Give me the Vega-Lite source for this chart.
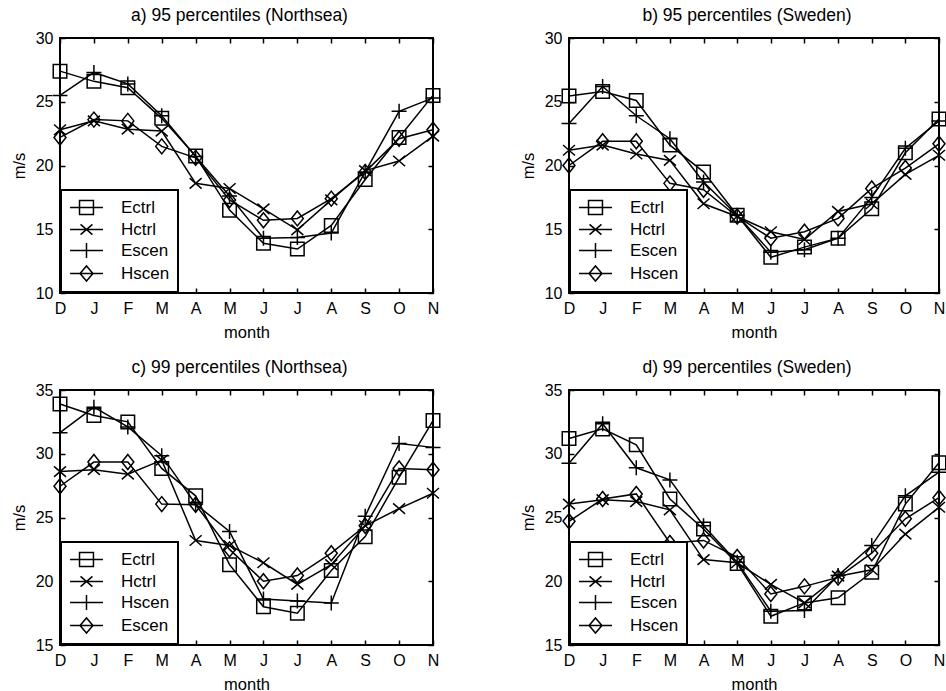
{
  "$schema": "https://vega.github.io/schema/vega-lite/v6.json",
  "background": "white",
  "padding": {"left": 10, "top": 5, "right": 0, "bottom": 0},
  "datasets": {
    "d": [
      {"p":"a","s":"Ectrl","m":0,"v":27.4},{"p":"a","s":"Ectrl","m":1,"v":26.6},{"p":"a","s":"Ectrl","m":2,"v":26.1},{"p":"a","s":"Ectrl","m":3,"v":23.7},{"p":"a","s":"Ectrl","m":4,"v":20.75},{"p":"a","s":"Ectrl","m":5,"v":16.5},{"p":"a","s":"Ectrl","m":6,"v":13.9},{"p":"a","s":"Ectrl","m":7,"v":13.45},{"p":"a","s":"Ectrl","m":8,"v":15.3},{"p":"a","s":"Ectrl","m":9,"v":18.9},{"p":"a","s":"Ectrl","m":10,"v":22.2},{"p":"a","s":"Ectrl","m":11,"v":25.5},
      {"p":"a","s":"Hctrl","m":0,"v":22.8},{"p":"a","s":"Hctrl","m":1,"v":23.5},{"p":"a","s":"Hctrl","m":2,"v":22.85},{"p":"a","s":"Hctrl","m":3,"v":22.7},{"p":"a","s":"Hctrl","m":4,"v":18.6},{"p":"a","s":"Hctrl","m":5,"v":18.2},{"p":"a","s":"Hctrl","m":6,"v":16.6},{"p":"a","s":"Hctrl","m":7,"v":14.95},{"p":"a","s":"Hctrl","m":8,"v":17.3},{"p":"a","s":"Hctrl","m":9,"v":19.6},{"p":"a","s":"Hctrl","m":10,"v":20.35},{"p":"a","s":"Hctrl","m":11,"v":22.3},
      {"p":"a","s":"Escen","m":0,"v":25.5},{"p":"a","s":"Escen","m":1,"v":27.3},{"p":"a","s":"Escen","m":2,"v":26.4},{"p":"a","s":"Escen","m":3,"v":23.9},{"p":"a","s":"Escen","m":4,"v":20.7},{"p":"a","s":"Escen","m":5,"v":17.6},{"p":"a","s":"Escen","m":6,"v":14.3},{"p":"a","s":"Escen","m":7,"v":14.35},{"p":"a","s":"Escen","m":8,"v":14.7},{"p":"a","s":"Escen","m":9,"v":19.5},{"p":"a","s":"Escen","m":10,"v":24.25},{"p":"a","s":"Escen","m":11,"v":25.3},
      {"p":"a","s":"Hscen","m":0,"v":22.2},{"p":"a","s":"Hscen","m":1,"v":23.6},{"p":"a","s":"Hscen","m":2,"v":23.5},{"p":"a","s":"Hscen","m":3,"v":21.5},{"p":"a","s":"Hscen","m":4,"v":20.6},{"p":"a","s":"Hscen","m":5,"v":17.3},{"p":"a","s":"Hscen","m":6,"v":15.7},{"p":"a","s":"Hscen","m":7,"v":15.85},{"p":"a","s":"Hscen","m":8,"v":17.4},{"p":"a","s":"Hscen","m":9,"v":19.5},{"p":"a","s":"Hscen","m":10,"v":22.1},{"p":"a","s":"Hscen","m":11,"v":22.8},

      {"p":"b","s":"Ectrl","m":0,"v":25.45},{"p":"b","s":"Ectrl","m":1,"v":25.8},{"p":"b","s":"Ectrl","m":2,"v":25.1},{"p":"b","s":"Ectrl","m":3,"v":21.6},{"p":"b","s":"Ectrl","m":4,"v":19.5},{"p":"b","s":"Ectrl","m":5,"v":16.1},{"p":"b","s":"Ectrl","m":6,"v":12.8},{"p":"b","s":"Ectrl","m":7,"v":13.6},{"p":"b","s":"Ectrl","m":8,"v":14.3},{"p":"b","s":"Ectrl","m":9,"v":16.6},{"p":"b","s":"Ectrl","m":10,"v":21.0},{"p":"b","s":"Ectrl","m":11,"v":23.65},
      {"p":"b","s":"Hctrl","m":0,"v":21.2},{"p":"b","s":"Hctrl","m":1,"v":21.6},{"p":"b","s":"Hctrl","m":2,"v":20.9},{"p":"b","s":"Hctrl","m":3,"v":20.4},{"p":"b","s":"Hctrl","m":4,"v":17.0},{"p":"b","s":"Hctrl","m":5,"v":16.0},{"p":"b","s":"Hctrl","m":6,"v":14.8},{"p":"b","s":"Hctrl","m":7,"v":14.2},{"p":"b","s":"Hctrl","m":8,"v":16.4},{"p":"b","s":"Hctrl","m":9,"v":17.0},{"p":"b","s":"Hctrl","m":10,"v":19.3},{"p":"b","s":"Hctrl","m":11,"v":20.8},
      {"p":"b","s":"Escen","m":0,"v":23.3},{"p":"b","s":"Escen","m":1,"v":26.2},{"p":"b","s":"Escen","m":2,"v":23.9},{"p":"b","s":"Escen","m":3,"v":22.1},{"p":"b","s":"Escen","m":4,"v":18.7},{"p":"b","s":"Escen","m":5,"v":16.1},{"p":"b","s":"Escen","m":6,"v":13.2},{"p":"b","s":"Escen","m":7,"v":13.4},{"p":"b","s":"Escen","m":8,"v":14.3},{"p":"b","s":"Escen","m":9,"v":17.5},{"p":"b","s":"Escen","m":10,"v":21.35},{"p":"b","s":"Escen","m":11,"v":23.5},
      {"p":"b","s":"Hscen","m":0,"v":20.0},{"p":"b","s":"Hscen","m":1,"v":21.9},{"p":"b","s":"Hscen","m":2,"v":21.9},{"p":"b","s":"Hscen","m":3,"v":18.6},{"p":"b","s":"Hscen","m":4,"v":18.1},{"p":"b","s":"Hscen","m":5,"v":16.0},{"p":"b","s":"Hscen","m":6,"v":14.3},{"p":"b","s":"Hscen","m":7,"v":14.8},{"p":"b","s":"Hscen","m":8,"v":15.85},{"p":"b","s":"Hscen","m":9,"v":18.2},{"p":"b","s":"Hscen","m":10,"v":19.8},{"p":"b","s":"Hscen","m":11,"v":21.7},

      {"p":"c","s":"Ectrl","m":0,"v":33.9},{"p":"c","s":"Ectrl","m":1,"v":33.0},{"p":"c","s":"Ectrl","m":2,"v":32.5},{"p":"c","s":"Ectrl","m":3,"v":28.85},{"p":"c","s":"Ectrl","m":4,"v":26.7},{"p":"c","s":"Ectrl","m":5,"v":21.3},{"p":"c","s":"Ectrl","m":6,"v":18.0},{"p":"c","s":"Ectrl","m":7,"v":17.5},{"p":"c","s":"Ectrl","m":8,"v":20.85},{"p":"c","s":"Ectrl","m":9,"v":23.5},{"p":"c","s":"Ectrl","m":10,"v":28.15},{"p":"c","s":"Ectrl","m":11,"v":32.6},
      {"p":"c","s":"Hctrl","m":0,"v":28.6},{"p":"c","s":"Hctrl","m":1,"v":28.75},{"p":"c","s":"Hctrl","m":2,"v":28.4},{"p":"c","s":"Hctrl","m":3,"v":29.5},{"p":"c","s":"Hctrl","m":4,"v":23.2},{"p":"c","s":"Hctrl","m":5,"v":22.8},{"p":"c","s":"Hctrl","m":6,"v":21.45},{"p":"c","s":"Hctrl","m":7,"v":19.75},{"p":"c","s":"Hctrl","m":8,"v":21.3},{"p":"c","s":"Hctrl","m":9,"v":24.35},{"p":"c","s":"Hctrl","m":10,"v":25.7},{"p":"c","s":"Hctrl","m":11,"v":26.9},
      {"p":"c","s":"Hscen","m":0,"v":31.65},{"p":"c","s":"Hscen","m":1,"v":33.65},{"p":"c","s":"Hscen","m":2,"v":32.1},{"p":"c","s":"Hscen","m":3,"v":29.85},{"p":"c","s":"Hscen","m":4,"v":26.05},{"p":"c","s":"Hscen","m":5,"v":23.9},{"p":"c","s":"Hscen","m":6,"v":18.6},{"p":"c","s":"Hscen","m":7,"v":18.45},{"p":"c","s":"Hscen","m":8,"v":18.3},{"p":"c","s":"Hscen","m":9,"v":25.1},{"p":"c","s":"Hscen","m":10,"v":30.8},{"p":"c","s":"Hscen","m":11,"v":30.5},
      {"p":"c","s":"Escen","m":0,"v":27.45},{"p":"c","s":"Escen","m":1,"v":29.35},{"p":"c","s":"Escen","m":2,"v":29.35},{"p":"c","s":"Escen","m":3,"v":26.05},{"p":"c","s":"Escen","m":4,"v":26.0},{"p":"c","s":"Escen","m":5,"v":22.5},{"p":"c","s":"Escen","m":6,"v":20.0},{"p":"c","s":"Escen","m":7,"v":20.45},{"p":"c","s":"Escen","m":8,"v":22.2},{"p":"c","s":"Escen","m":9,"v":24.35},{"p":"c","s":"Escen","m":10,"v":28.85},{"p":"c","s":"Escen","m":11,"v":28.75},

      {"p":"d","s":"Ectrl","m":0,"v":31.2},{"p":"d","s":"Ectrl","m":1,"v":31.95},{"p":"d","s":"Ectrl","m":2,"v":30.7},{"p":"d","s":"Ectrl","m":3,"v":26.45},{"p":"d","s":"Ectrl","m":4,"v":24.1},{"p":"d","s":"Ectrl","m":5,"v":21.4},{"p":"d","s":"Ectrl","m":6,"v":17.25},{"p":"d","s":"Ectrl","m":7,"v":18.3},{"p":"d","s":"Ectrl","m":8,"v":18.7},{"p":"d","s":"Ectrl","m":9,"v":20.7},{"p":"d","s":"Ectrl","m":10,"v":26.05},{"p":"d","s":"Ectrl","m":11,"v":29.3},
      {"p":"d","s":"Hctrl","m":0,"v":26.05},{"p":"d","s":"Hctrl","m":1,"v":26.4},{"p":"d","s":"Hctrl","m":2,"v":26.25},{"p":"d","s":"Hctrl","m":3,"v":25.6},{"p":"d","s":"Hctrl","m":4,"v":21.7},{"p":"d","s":"Hctrl","m":5,"v":21.45},{"p":"d","s":"Hctrl","m":6,"v":19.75},{"p":"d","s":"Hctrl","m":7,"v":18.3},{"p":"d","s":"Hctrl","m":8,"v":20.4},{"p":"d","s":"Hctrl","m":9,"v":20.9},{"p":"d","s":"Hctrl","m":10,"v":23.7},{"p":"d","s":"Hctrl","m":11,"v":25.8},
      {"p":"d","s":"Escen","m":0,"v":29.25},{"p":"d","s":"Escen","m":1,"v":32.35},{"p":"d","s":"Escen","m":2,"v":28.9},{"p":"d","s":"Escen","m":3,"v":27.95},{"p":"d","s":"Escen","m":4,"v":24.35},{"p":"d","s":"Escen","m":5,"v":21.5},{"p":"d","s":"Escen","m":6,"v":17.65},{"p":"d","s":"Escen","m":7,"v":17.7},{"p":"d","s":"Escen","m":8,"v":20.45},{"p":"d","s":"Escen","m":9,"v":22.8},{"p":"d","s":"Escen","m":10,"v":26.7},{"p":"d","s":"Escen","m":11,"v":28.55},
      {"p":"d","s":"Hscen","m":0,"v":24.7},{"p":"d","s":"Hscen","m":1,"v":26.45},{"p":"d","s":"Hscen","m":2,"v":26.85},{"p":"d","s":"Hscen","m":3,"v":23.0},{"p":"d","s":"Hscen","m":4,"v":23.2},{"p":"d","s":"Hscen","m":5,"v":21.9},{"p":"d","s":"Hscen","m":6,"v":19.0},{"p":"d","s":"Hscen","m":7,"v":19.6},{"p":"d","s":"Hscen","m":8,"v":20.3},{"p":"d","s":"Hscen","m":9,"v":22.2},{"p":"d","s":"Hscen","m":10,"v":24.9},{"p":"d","s":"Hscen","m":11,"v":26.55}
    ]
  },
  "data": {"name": "d"},
  "columns": 2,
  "spacing": {"row": 15, "column": 74},
  "resolve": {"scale": {"shape": "independent", "x": "independent", "y": "independent"}, "legend": {"shape": "independent"}},
  "concat": [
    {
      "width": 373, "height": 255,
      "title": {"text": "a) 95 percentiles (Northsea)", "dx": -7},
      "transform": [{"filter": "datum.p == 'a'"}],
      "layer": [
        {"mark": {"type": "line", "color": "black", "strokeWidth": 1.5},
         "encoding": {
           "x": {"field": "m", "type": "quantitative", "scale": {"domain": [0, 11], "nice": false, "zero": false}, "axis": {"orient": "bottom", "title": "month", "values": [0,1,2,3,4,5,6,7,8,9,10,11], "labelExpr": "['D','J','F','M','A','M','J','J','A','S','O','N'][datum.value]"}},
           "y": {"field": "v", "type": "quantitative", "scale": {"domain": [10, 30], "nice": false, "zero": false}, "axis": {"orient": "left", "title": "m/s", "values": [10,15,20,25,30]}},
           "detail": {"field": "s"}
         }},
        {"mark": {"type": "point", "filled": false, "color": "black", "strokeWidth": 1.5, "size": 225, "opacity": 1},
         "encoding": {
           "x": {"field": "m", "type": "quantitative", "axis": {"orient": "top", "labels": false, "title": null, "values": [0,1,2,3,4,5,6,7,8,9,10,11]}},
           "y": {"field": "v", "type": "quantitative", "axis": {"orient": "right", "labels": false, "title": null, "values": [10,15,20,25,30]}},
           "shape": {"field": "s", "type": "nominal", "legend": null,
             "scale": {"domain": ["Ectrl","Hctrl","Escen","Hscen"], "range": ["M-0.9,-0.9H0.9V0.9H-0.9Z","M-0.8,-0.7L0.8,0.7M-0.8,0.7L0.8,-0.7","M-1,0H1M0,-1V1","M-0.8,0L0,-1L0.8,0L0,1Z"]}}
         }},
        {"transform": [{"filter": "datum.v > 1000"}],
         "mark": {"type": "point", "filled": false, "color": "black", "strokeWidth": 1.5, "opacity": 1},
         "encoding": {
           "shape": {"field": "s", "type": "nominal", "legend": {"title": null},
             "scale": {"domain": ["Ectrl","Hctrl","Escen","Hscen"], "range": ["M-1,0H2.88M0.12,-0.82H1.76V0.82H0.12Z","M-1,0H2.88M0.24,-0.6L1.64,0.6M0.24,0.6L1.64,-0.6","M-1,0H2.88M0.94,-0.88V0.88","M-1,0H2.88M0.18,0L0.94,-0.88L1.7,0L0.94,0.88Z"]}}
         }}
      ],
      "resolve": {"axis": {"x": "independent", "y": "independent"}, "scale": {"shape": "independent"}}
    },
    {
      "width": 370, "height": 255,
      "title": {"text": "b) 95 percentiles (Sweden)", "dx": -7},
      "transform": [{"filter": "datum.p == 'b'"}],
      "layer": [
        {"mark": {"type": "line", "color": "black", "strokeWidth": 1.5},
         "encoding": {
           "x": {"field": "m", "type": "quantitative", "scale": {"domain": [0, 11], "nice": false, "zero": false}, "axis": {"orient": "bottom", "title": "month", "values": [0,1,2,3,4,5,6,7,8,9,10,11], "labelExpr": "['D','J','F','M','A','M','J','J','A','S','O','N'][datum.value]"}},
           "y": {"field": "v", "type": "quantitative", "scale": {"domain": [10, 30], "nice": false, "zero": false}, "axis": {"orient": "left", "title": "m/s", "values": [10,15,20,25,30]}},
           "detail": {"field": "s"}
         }},
        {"mark": {"type": "point", "filled": false, "color": "black", "strokeWidth": 1.5, "size": 225, "opacity": 1},
         "encoding": {
           "x": {"field": "m", "type": "quantitative", "axis": {"orient": "top", "labels": false, "title": null, "values": [0,1,2,3,4,5,6,7,8,9,10,11]}},
           "y": {"field": "v", "type": "quantitative", "axis": {"orient": "right", "labels": false, "title": null, "values": [10,15,20,25,30]}},
           "shape": {"field": "s", "type": "nominal", "legend": null,
             "scale": {"domain": ["Ectrl","Hctrl","Escen","Hscen"], "range": ["M-0.9,-0.9H0.9V0.9H-0.9Z","M-0.8,-0.7L0.8,0.7M-0.8,0.7L0.8,-0.7","M-1,0H1M0,-1V1","M-0.8,0L0,-1L0.8,0L0,1Z"]}}
         }},
        {"transform": [{"filter": "datum.v > 1000"}],
         "mark": {"type": "point", "filled": false, "color": "black", "strokeWidth": 1.5, "opacity": 1},
         "encoding": {
           "shape": {"field": "s", "type": "nominal", "legend": {"title": null},
             "scale": {"domain": ["Ectrl","Hctrl","Escen","Hscen"], "range": ["M-1,0H2.88M0.12,-0.82H1.76V0.82H0.12Z","M-1,0H2.88M0.24,-0.6L1.64,0.6M0.24,0.6L1.64,-0.6","M-1,0H2.88M0.94,-0.88V0.88","M-1,0H2.88M0.18,0L0.94,-0.88L1.7,0L0.94,0.88Z"]}}
         }}
      ],
      "resolve": {"axis": {"x": "independent", "y": "independent"}, "scale": {"shape": "independent"}}
    },
    {
      "width": 373, "height": 255,
      "title": {"text": "c) 99 percentiles (Northsea)", "dx": -7},
      "transform": [{"filter": "datum.p == 'c'"}],
      "layer": [
        {"mark": {"type": "line", "color": "black", "strokeWidth": 1.5},
         "encoding": {
           "x": {"field": "m", "type": "quantitative", "scale": {"domain": [0, 11], "nice": false, "zero": false}, "axis": {"orient": "bottom", "title": "month", "values": [0,1,2,3,4,5,6,7,8,9,10,11], "labelExpr": "['D','J','F','M','A','M','J','J','A','S','O','N'][datum.value]"}},
           "y": {"field": "v", "type": "quantitative", "scale": {"domain": [15, 35], "nice": false, "zero": false}, "axis": {"orient": "left", "title": "m/s", "values": [15,20,25,30,35]}},
           "detail": {"field": "s"}
         }},
        {"mark": {"type": "point", "filled": false, "color": "black", "strokeWidth": 1.5, "size": 225, "opacity": 1},
         "encoding": {
           "x": {"field": "m", "type": "quantitative", "axis": {"orient": "top", "labels": false, "title": null, "values": [0,1,2,3,4,5,6,7,8,9,10,11]}},
           "y": {"field": "v", "type": "quantitative", "axis": {"orient": "right", "labels": false, "title": null, "values": [15,20,25,30,35]}},
           "shape": {"field": "s", "type": "nominal", "legend": null,
             "scale": {"domain": ["Ectrl","Hctrl","Hscen","Escen"], "range": ["M-0.9,-0.9H0.9V0.9H-0.9Z","M-0.8,-0.7L0.8,0.7M-0.8,0.7L0.8,-0.7","M-1,0H1M0,-1V1","M-0.8,0L0,-1L0.8,0L0,1Z"]}}
         }},
        {"transform": [{"filter": "datum.v > 1000"}],
         "mark": {"type": "point", "filled": false, "color": "black", "strokeWidth": 1.5, "opacity": 1},
         "encoding": {
           "shape": {"field": "s", "type": "nominal", "legend": {"title": null},
             "scale": {"domain": ["Ectrl","Hctrl","Hscen","Escen"], "range": ["M-1,0H2.88M0.12,-0.82H1.76V0.82H0.12Z","M-1,0H2.88M0.24,-0.6L1.64,0.6M0.24,0.6L1.64,-0.6","M-1,0H2.88M0.94,-0.88V0.88","M-1,0H2.88M0.18,0L0.94,-0.88L1.7,0L0.94,0.88Z"]}}
         }}
      ],
      "resolve": {"axis": {"x": "independent", "y": "independent"}, "scale": {"shape": "independent"}}
    },
    {
      "width": 370, "height": 255,
      "title": {"text": "d) 99 percentiles (Sweden)", "dx": -7},
      "transform": [{"filter": "datum.p == 'd'"}],
      "layer": [
        {"mark": {"type": "line", "color": "black", "strokeWidth": 1.5},
         "encoding": {
           "x": {"field": "m", "type": "quantitative", "scale": {"domain": [0, 11], "nice": false, "zero": false}, "axis": {"orient": "bottom", "title": "month", "values": [0,1,2,3,4,5,6,7,8,9,10,11], "labelExpr": "['D','J','F','M','A','M','J','J','A','S','O','N'][datum.value]"}},
           "y": {"field": "v", "type": "quantitative", "scale": {"domain": [15, 35], "nice": false, "zero": false}, "axis": {"orient": "left", "title": "m/s", "values": [15,20,25,30,35]}},
           "detail": {"field": "s"}
         }},
        {"mark": {"type": "point", "filled": false, "color": "black", "strokeWidth": 1.5, "size": 225, "opacity": 1},
         "encoding": {
           "x": {"field": "m", "type": "quantitative", "axis": {"orient": "top", "labels": false, "title": null, "values": [0,1,2,3,4,5,6,7,8,9,10,11]}},
           "y": {"field": "v", "type": "quantitative", "axis": {"orient": "right", "labels": false, "title": null, "values": [15,20,25,30,35]}},
           "shape": {"field": "s", "type": "nominal", "legend": null,
             "scale": {"domain": ["Ectrl","Hctrl","Escen","Hscen"], "range": ["M-0.9,-0.9H0.9V0.9H-0.9Z","M-0.8,-0.7L0.8,0.7M-0.8,0.7L0.8,-0.7","M-1,0H1M0,-1V1","M-0.8,0L0,-1L0.8,0L0,1Z"]}}
         }},
        {"transform": [{"filter": "datum.v > 1000"}],
         "mark": {"type": "point", "filled": false, "color": "black", "strokeWidth": 1.5, "opacity": 1},
         "encoding": {
           "shape": {"field": "s", "type": "nominal", "legend": {"title": null},
             "scale": {"domain": ["Ectrl","Hctrl","Escen","Hscen"], "range": ["M-1,0H2.88M0.12,-0.82H1.76V0.82H0.12Z","M-1,0H2.88M0.24,-0.6L1.64,0.6M0.24,0.6L1.64,-0.6","M-1,0H2.88M0.94,-0.88V0.88","M-1,0H2.88M0.18,0L0.94,-0.88L1.7,0L0.94,0.88Z"]}}
         }}
      ],
      "resolve": {"axis": {"x": "independent", "y": "independent"}, "scale": {"shape": "independent"}}
    }
  ],
  "config": {
    "font": "Liberation Sans",
    "view": {"stroke": "black", "strokeWidth": 2},
    "axis": {"domain": false, "grid": false, "tickColor": "black", "tickWidth": 1.5, "tickSize": -5, "labelPadding": 12, "labelColor": "black", "labelFontSize": 16, "titleFontSize": 16.5, "titleFontWeight": "normal", "titleColor": "black", "labelFlush": false, "labelOverlap": false},
    "axisX": {"titlePadding": 8},
    "axisY": {"titlePadding": 8},
    "title": {"fontSize": 17.5, "fontWeight": "normal", "color": "black", "offset": 6},
    "legend": {"orient": "bottom-left", "offset": 1, "symbolSize": 289, "labelOffset": 33, "padding": 8, "rowPadding": 2, "labelFontSize": 17, "labelColor": "black", "strokeColor": "black", "fillColor": "white", "strokeWidth": 2, "symbolStrokeWidth": 1.5, "symbolStrokeColor": "black", "symbolFillColor": "transparent", "symbolOpacity": 1}
  }
}
